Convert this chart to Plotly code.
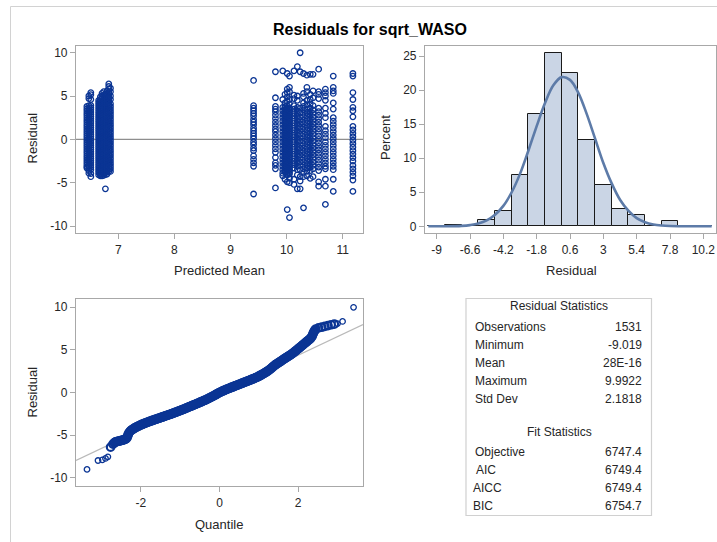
import plotly.graph_objects as go

W, H = 717, 542

# ---------------- Residual by predicted mean (grouped by predicted-mean column) ----------------
pred_mean_cols = [
    6.44, 6.475, 6.51,
    6.65, 6.68, 6.71, 6.74, 6.77, 6.80, 6.83, 6.86,
    9.41, 9.80, 9.93, 9.97, 10.01, 10.05, 10.13, 10.19, 10.24, 10.30,
    10.36, 10.42, 10.47, 10.57, 10.69, 10.83, 11.18,
]
residual_cols = [
    [3.8, 3.52, 3.27, 3.0, 2.76, 2.49, 2.23, 1.98, 1.71, 1.47, 1.2, 0.95, 0.69, 0.43, 0.18, -0.08, -0.33,
     -0.59, -0.84, -1.1, -1.36, -1.61, -1.87, -2.12, -2.38, -2.63, -2.89, -3.14, -3.3],
    [5.0, 4.7, 3.9, 3.64, 3.38, 3.12, 2.87, 2.61, 2.35, 2.1, 1.84, 1.58, 1.33, 1.07, 0.81, 0.56, 0.3, 0.04,
     -0.21, -0.47, -0.73, -0.98, -1.24, -1.5, -1.75, -2.01, -2.27, -2.52, -2.78, -3.04, -3.3, -3.6, -3.9],
    [5.4, 5.15, 4.6, 3.92, 3.66, 3.41, 3.15, 2.9, 2.64, 2.39, 2.13, 1.88, 1.62, 1.37, 1.11, 0.86, 0.6, 0.35,
     0.09, -0.16, -0.42, -0.67, -0.93, -1.18, -1.44, -1.69, -1.95, -2.2, -2.46, -2.71, -2.97, -3.22, -3.5,
     -3.95, -4.3],
    [4.5, 4.24, 3.98, 3.72, 3.46, 3.2, 2.94, 2.68, 2.42, 2.16, 1.9, 1.64, 1.38, 1.12, 0.86, 0.6, 0.34, 0.08,
     -0.18, -0.44, -0.7, -0.96, -1.22, -1.48, -1.74, -2.0, -2.26, -2.52, -2.78, -3.04, -3.3, -3.56, -3.82, -4.1],
    [4.9, 4.62, 4.36, 4.1, 3.84, 3.57, 3.31, 3.05, 2.79, 2.52, 2.26, 2.0, 1.74, 1.47, 1.21, 0.95, 0.69, 0.42,
     0.16, -0.1, -0.36, -0.63, -0.89, -1.15, -1.41, -1.68, -1.94, -2.2, -2.46, -2.73, -2.99, -3.25, -3.51,
     -3.78, -4.04, -4.2],
    [5.3, 5.0, 4.72, 4.45, 4.19, 3.93, 3.66, 3.4, 3.14, 2.87, 2.61, 2.35, 2.08, 1.82, 1.56, 1.29, 1.03, 0.77,
     0.5, 0.24, -0.02, -0.29, -0.55, -0.81, -1.08, -1.34, -1.6, -1.87, -2.13, -2.39, -2.66, -2.92, -3.18,
     -3.45, -3.71, -3.97, -4.2],
    [5.5, 5.1, 4.6, 4.33, 4.07, 3.8, 3.54, 3.27, 3.01, 2.74, 2.48, 2.21, 1.95, 1.68, 1.42, 1.15, 0.89, 0.62,
     0.36, 0.09, -0.17, -0.44, -0.7, -0.97, -1.23, -1.5, -1.76, -2.03, -2.29, -2.56, -2.82, -3.09, -3.35,
     -3.62, -3.88, -4.15],
    [5.2, 4.94, 4.68, 4.41, 4.15, 3.88, 3.62, 3.35, 3.09, 2.82, 2.56, 2.29, 2.03, 1.76, 1.5, 1.23, 0.97, 0.7,
     0.44, 0.17, -0.09, -0.36, -0.62, -0.89, -1.15, -1.42, -1.68, -1.95, -2.21, -2.48, -2.74, -3.01, -3.27,
     -3.54, -3.8, -4.07, -5.7],
    [5.6, 5.3, 5.0, 4.74, 4.47, 4.21, 3.94, 3.68, 3.41, 3.15, 2.88, 2.62, 2.35, 2.09, 1.82, 1.56, 1.29, 1.03,
     0.76, 0.5, 0.23, -0.03, -0.3, -0.56, -0.83, -1.09, -1.36, -1.62, -1.89, -2.15, -2.42, -2.68, -2.95,
     -3.21, -3.48, -3.74, -4.0],
    [6.4, 6.1, 5.8, 5.45, 5.1, 4.8, 4.53, 4.26, 4.0, 3.73, 3.47, 3.2, 2.94, 2.67, 2.41, 2.14, 1.88, 1.61,
     1.35, 1.08, 0.82, 0.55, 0.29, 0.02, -0.24, -0.51, -0.77, -1.04, -1.3, -1.57, -1.83, -2.1, -2.36, -2.63,
     -2.89, -3.16, -3.42, -3.7],
    [5.9, 5.5, 5.0, 4.6, 4.1, 3.8, 3.5, 3.2, 2.9, 2.6, 2.3, 2.0, 1.7, 1.4, 1.1, 0.8, 0.5, 0.2, -0.1, -0.4,
     -0.7, -1.0, -1.3, -1.6, -1.9, -2.2, -2.5, -2.8, -3.1, -3.4, -3.7],
    [6.8, 3.9, 3.6, 3.3, 3.0, 2.7, 2.3, 2.0, 1.7, 1.3, 1.0, 0.7, 0.4, 0.1, -0.3, -0.6, -1.0, -1.3, -1.9,
     -2.3, -2.7, -3.1, -6.3],
    [7.8, 4.8, 3.8, 3.5, 3.2, 2.8, 2.4, 2.0, 1.6, 1.2, 0.9, 0.5, 0.1, -0.3, -0.7, -1.1, -1.5, -2.1, -2.7,
     -3.0, -3.4, -5.6],
    [7.9, 4.6, 3.7, 3.3, 2.9, 2.5, 2.1, 1.7, 1.3, 0.9, 0.5, 0.1, -0.3, -0.7, -1.1, -1.5, -1.9, -2.3, -2.7,
     -3.1, -3.5, -3.9, -4.2],
    [5.2, 4.2, 3.8, 3.6, 3.4, 3.2, 3.0, 2.8, 2.6, 2.4, 2.2, 2.0, 1.8, 1.6, 1.4, 1.2, 1.0, 0.8, 0.6, 0.4,
     0.2, 0.0, -0.2, -0.4, -0.6, -0.8, -1.0, -1.2, -1.4, -1.6, -1.8, -2.0, -2.2, -2.4, -2.6, -2.8, -3.0,
     -3.2, -3.4, -3.6, -3.8, -4.6],
    [7.6, 5.8, 5.4, 4.9, 4.4, 3.9, 3.7, 3.5, 3.3, 3.1, 2.9, 2.7, 2.5, 2.3, 2.1, 1.9, 1.7, 1.5, 1.3, 1.1,
     0.9, 0.7, 0.5, 0.3, 0.1, -0.1, -0.3, -0.5, -0.7, -0.9, -1.1, -1.3, -1.5, -1.7, -1.9, -2.1, -2.3, -2.5,
     -2.7, -2.9, -3.1, -3.3, -3.5, -3.7, -3.9, -4.1, -4.9, -8.1],
    [7.3, 6.0, 5.5, 4.6, 4.1, 3.6, 3.4, 3.2, 3.0, 2.8, 2.6, 2.4, 2.2, 2.0, 1.8, 1.6, 1.4, 1.2, 1.0, 0.8,
     0.6, 0.4, 0.2, 0.0, -0.2, -0.4, -0.6, -0.8, -1.0, -1.2, -1.4, -1.6, -1.8, -2.0, -2.2, -2.4, -2.6, -2.8,
     -3.0, -3.2, -3.4, -3.6, -3.8, -4.0, -4.5, -5.0, -9.02],
    [7.9, 5.1, 4.7, 3.9, 3.5, 3.1, 2.7, 2.3, 1.9, 1.5, 1.1, 0.7, 0.3, -0.1, -0.5, -0.9, -1.3, -1.7, -2.1,
     -2.5, -2.9, -3.3, -4.6, -5.2],
    [8.4, 5.0, 4.5, 3.7, 3.3, 2.9, 2.5, 2.1, 1.7, 1.3, 0.9, 0.5, 0.1, -0.3, -0.7, -1.1, -1.5, -1.9, -2.3,
     -2.7, -3.1, -3.5, -4.1, -5.7],
    [9.99, 7.8, 3.6, 3.1, 2.6, 2.2, 1.8, 1.4, 1.0, 0.6, 0.2, -0.2, -0.6, -1.0, -1.4, -1.8, -2.2, -2.6, -3.0,
     -3.5, -4.3, -4.8, -5.7],
    [7.6, 5.3, 4.9, 4.2, 3.8, 3.4, 3.0, 2.6, 2.2, 1.8, 1.4, 1.0, 0.6, 0.2, -0.2, -0.6, -1.0, -1.4, -1.8,
     -2.2, -2.6, -3.0, -3.4, -3.8, -4.3, -7.9],
    [7.4, 6.0, 5.5, 4.5, 4.0, 3.5, 3.1, 2.7, 2.3, 1.9, 1.5, 1.1, 0.7, 0.3, -0.1, -0.5, -0.9, -1.3, -1.7,
     -2.1, -2.5, -2.9, -3.3, -3.7, -4.2],
    [7.5, 5.2, 4.6, 4.1, 3.6, 3.2, 2.8, 2.4, 2.0, 1.6, 1.2, 0.8, 0.4, 0.0, -0.4, -0.8, -1.2, -1.6, -2.0,
     -2.4, -2.8, -3.2, -3.6, -4.5],
    [7.5, 5.6, 4.8, 3.9, 3.4, 3.0, 2.6, 2.2, 1.8, 1.4, 1.0, 0.6, 0.2, -0.2, -0.6, -1.0, -1.4, -1.8, -2.2,
     -2.6, -3.0, -3.4, -4.3],
    [8.1, 5.5, 5.2, 4.7, 3.6, 3.2, 2.8, 2.4, 2.0, 1.6, 1.2, 0.8, 0.4, 0.0, -0.4, -0.8, -1.2, -1.6, -2.0,
     -2.4, -2.8, -3.2, -3.6, -4.9, -5.4],
    [5.8, 5.4, 5.0, 4.5, 3.6, 3.0, 2.5, 1.5, 1.0, 0.6, 0.2, -0.3, -0.7, -1.1, -1.5, -1.9, -2.3, -2.7, -3.1,
     -3.4, -4.6, -5.4, -7.5],
    [7.3, 6.0, 5.6, 5.3, 4.2, 3.5, 2.5, 2.1, 1.7, 1.3, 0.9, 0.5, 0.1, -0.3, -0.7, -1.1, -1.5, -1.9, -2.3,
     -2.7, -3.1, -3.5, -4.6, -6.0],
    [7.6, 7.3, 5.4, 4.6, 3.7, 3.3, 2.6, 1.5, 1.1, 0.7, 0.3, -0.1, -0.5, -0.9, -1.3, -1.7, -2.1, -2.5, -3.0,
     -3.4, -3.8, -4.2, -4.7, -6.0],
]
resid_ticks = [-10, -5, 0, 5, 10]
resid_tick_text = ["-10", "-5", "0", "5", "10"]
pred_ticks = [7, 8, 9, 10, 11]

# ---------------- Residual distribution (percent per bin) ----------------
bin_centers = [-9.0, -7.8, -6.6, -5.4, -4.2, -3.0, -1.8, -0.6, 0.6, 1.8, 3.0, 4.2, 5.4, 6.6, 7.8, 9.0, 10.2]
bin_percent = [0.0, 0.13, 0.0, 0.9, 2.2, 7.6, 16.5, 25.4, 22.5, 12.6, 6.1, 2.6, 1.6, 0.0, 0.8, 0.0, 0.0]
hist_ticks = [-9, -6.6, -4.2, -1.8, 0.6, 3, 5.4, 7.8, 10.2]
hist_tick_text = ["-9", "-6.6", "-4.2", "-1.8", "0.6", "3", "5.4", "7.8", "10.2"]
pct_ticks = [0, 5, 10, 15, 20, 25]

# normal density overlay (percent scale)
curve_x = [-9.6, -9.0, -8.4, -7.8, -7.2, -6.6, -6.0, -5.4, -4.8, -4.2, -3.6, -3.0, -2.4, -1.8,
           -1.2, -0.6, 0.0, 0.6, 1.2, 1.8, 2.4, 3.0, 3.6, 4.2, 4.8, 5.4, 6.0, 6.6, 7.2, 7.8,
           8.4, 9.0, 9.6, 10.2, 10.8]
curve_pct = [0.0, 0.0, 0.01, 0.03, 0.07, 0.18, 0.4, 0.86, 1.7, 3.0, 5.0, 7.7, 11.1, 14.7,
             18.1, 20.7, 21.9, 21.5, 19.6, 16.5, 12.9, 9.3, 6.3, 3.9, 2.3, 1.2, 0.6, 0.27, 0.12, 0.05,
             0.02, 0.01, 0.0, 0.0, 0.0]

# ---------------- Normal quantile plot ----------------
# isolated points in the two tails
qq_tail_quantile = [-3.37, -3.09, -2.98, -2.90, -2.84, 3.00, 3.13, 3.41]
qq_tail_residual = [-9.02, -7.98, -7.90, -7.74, -7.55, 8.08, 8.34, 9.99]
# the densely packed body of the quantile plot
qq_quantile = [
    -2.77, -2.71, -2.68, -2.66, -2.64, -2.61, -2.585, -2.56, -2.535,
    -2.51, -2.485, -2.46, -2.435, -2.41, -2.39, -2.37, -2.35, -2.33, -2.32,
    -2.300, -2.275, -2.250, -2.225, -2.200, -2.175, -2.150, -2.125, -2.100, -2.075, -2.050, -2.025,
    -2.000, -1.975, -1.950, -1.925, -1.900, -1.875, -1.850, -1.825, -1.800, -1.775, -1.750, -1.725,
    -1.700, -1.675, -1.650, -1.625, -1.600, -1.575, -1.550, -1.525, -1.500, -1.475, -1.450, -1.425,
    -1.400, -1.375, -1.350, -1.325, -1.300, -1.275, -1.250, -1.225, -1.200, -1.175, -1.150, -1.125,
    -1.100, -1.075, -1.050, -1.025, -1.000, -0.975, -0.950, -0.925, -0.900, -0.875, -0.850, -0.825,
    -0.800, -0.775, -0.750, -0.725, -0.700, -0.675, -0.650, -0.625, -0.600, -0.575, -0.550, -0.525,
    -0.500, -0.475, -0.450, -0.425, -0.400, -0.375, -0.350, -0.325, -0.300, -0.275, -0.250, -0.225,
    -0.200, -0.175, -0.150, -0.125, -0.100, -0.075, -0.050, -0.025, 0.000, 0.025, 0.050, 0.075,
    0.100, 0.125, 0.150, 0.175, 0.200, 0.225, 0.250, 0.275, 0.300, 0.325, 0.350, 0.375,
    0.400, 0.425, 0.450, 0.475, 0.500, 0.525, 0.550, 0.575, 0.600, 0.625, 0.650, 0.675,
    0.700, 0.725, 0.750, 0.775, 0.800, 0.825, 0.850, 0.875, 0.900, 0.925, 0.950, 0.975,
    1.000, 1.025, 1.050, 1.075, 1.100, 1.125, 1.150, 1.175, 1.200, 1.225, 1.250, 1.275,
    1.300, 1.325, 1.350, 1.375, 1.400, 1.425, 1.450, 1.475, 1.500, 1.525, 1.550, 1.575,
    1.600, 1.625, 1.650, 1.675, 1.700, 1.725, 1.750, 1.775, 1.800, 1.825, 1.850, 1.875,
    1.900, 1.925, 1.950, 1.975, 2.000, 2.025, 2.050, 2.075, 2.100, 2.125, 2.150, 2.175,
    2.200, 2.225, 2.250, 2.275, 2.300, 2.325, 2.350, 2.365, 2.380, 2.395, 2.410, 2.430, 2.450,
    2.52, 2.60, 2.68, 2.76, 2.84, 2.92,
]
qq_residual = [
    -6.41, -6.06, -5.92, -5.85, -5.80, -5.75, -5.73, -5.70, -5.68,
    -5.65, -5.62, -5.58, -5.55, -5.50, -5.45, -5.40, -5.30, -5.05, -4.90,
    -4.70, -4.56, -4.45, -4.37, -4.30, -4.22, -4.15, -4.08, -4.02, -3.96, -3.90, -3.85,
    -3.80, -3.75, -3.70, -3.65, -3.61, -3.56, -3.52, -3.47, -3.43, -3.39, -3.35, -3.31,
    -3.27, -3.23, -3.19, -3.15, -3.11, -3.07, -3.03, -2.99, -2.95, -2.91, -2.87, -2.83,
    -2.79, -2.75, -2.71, -2.67, -2.63, -2.59, -2.55, -2.51, -2.47, -2.42, -2.38, -2.34,
    -2.30, -2.25, -2.21, -2.16, -2.12, -2.07, -2.03, -1.98, -1.94, -1.89, -1.84, -1.79,
    -1.74, -1.69, -1.64, -1.60, -1.55, -1.50, -1.45, -1.41, -1.36, -1.31, -1.26, -1.21,
    -1.16, -1.11, -1.06, -1.01, -0.96, -0.91, -0.86, -0.81, -0.75, -0.69, -0.63, -0.57,
    -0.51, -0.45, -0.39, -0.33, -0.26, -0.20, -0.13, -0.07, 0.00, 0.06, 0.11, 0.16,
    0.21, 0.26, 0.31, 0.36, 0.40, 0.45, 0.50, 0.55, 0.59, 0.64, 0.68, 0.73,
    0.77, 0.82, 0.86, 0.91, 0.95, 1.00, 1.04, 1.09, 1.13, 1.18, 1.22, 1.27,
    1.31, 1.36, 1.40, 1.45, 1.50, 1.55, 1.59, 1.64, 1.69, 1.74, 1.79, 1.85,
    1.91, 1.97, 2.03, 2.10, 2.16, 2.23, 2.30, 2.37, 2.44, 2.52, 2.60, 2.69,
    2.78, 2.88, 2.98, 3.08, 3.18, 3.26, 3.34, 3.42, 3.49, 3.57, 3.64, 3.72,
    3.80, 3.88, 3.95, 4.03, 4.10, 4.18, 4.25, 4.33, 4.40, 4.48, 4.56, 4.65,
    4.74, 4.84, 4.93, 5.03, 5.12, 5.22, 5.31, 5.41, 5.50, 5.60, 5.70, 5.80,
    5.90, 5.99, 6.08, 6.18, 6.28, 6.40, 6.55, 6.72, 6.90, 7.05, 7.20, 7.33, 7.45,
    7.58, 7.66, 7.75, 7.85, 7.95, 8.02,
]
quantile_ticks = [-2, 0, 2]
quantile_tick_text = ["-2", "0", "2"]

# ---------------- Summary tables ----------------
resid_stat_names = ["Observations", "Minimum", "Mean", "Maximum", "Std Dev"]
resid_stat_values = ["1531", "-9.019", "28E-16", "9.9922", "2.1818"]
fit_stat_names = ["Objective", "AIC", "AICC", "BIC"]
fit_stat_values = ["6747.4", "6749.4", "6749.4", "6754.7"]
resid_mean = 0.0
resid_std = 2.1818

# ---------------------------------------------------------------------------
MARKER_BLUE = "#0b3594"
FRAME = "#a8a8a8"
FONT = "Liberation Sans, Arial, sans-serif"


def px_x(p):
    return p / W


def px_y(p):
    return 1 - p / H


scatter_x, scatter_y = [], []
for xv, ys in zip(pred_mean_cols, residual_cols):
    scatter_x.extend([xv] * len(ys))
    scatter_y.extend(ys)

fig = go.Figure()

ring = dict(symbol="circle-open", size=5.5, color=MARKER_BLUE, line=dict(width=1.3, color=MARKER_BLUE))
ring_dense = dict(symbol="circle-open", size=7.5, color=MARKER_BLUE, line=dict(width=2.2, color=MARKER_BLUE))

fig.add_trace(go.Scatter(x=scatter_x, y=scatter_y, mode="markers", marker=ring,
                         xaxis="x", yaxis="y", showlegend=False, hoverinfo="x+y"))

fig.add_trace(go.Bar(x=bin_centers, y=bin_percent, width=1.2, xaxis="x2", yaxis="y2",
                     marker=dict(color="#cad5e5", line=dict(color="#1a1a1a", width=1)),
                     showlegend=False))
fig.add_trace(go.Scatter(x=curve_x, y=curve_pct, mode="lines", xaxis="x2", yaxis="y2",
                         line=dict(color="#5d7ba8", width=2.6, shape="spline"), showlegend=False))

# reference line for the normal quantile plot: mean + sd * quantile
qq_range = [-3.65, 3.65]
fig.add_trace(go.Scatter(x=qq_range, y=[resid_mean + resid_std * q for q in qq_range], mode="lines",
                         xaxis="x3", yaxis="y3", line=dict(color="#b9b9b9", width=1.2),
                         showlegend=False, hoverinfo="skip"))
fig.add_trace(go.Scatter(x=qq_quantile, y=qq_residual, mode="markers", marker=ring_dense,
                         xaxis="x3", yaxis="y3", showlegend=False))
fig.add_trace(go.Scatter(x=qq_tail_quantile, y=qq_tail_residual, mode="markers", marker=ring,
                         xaxis="x3", yaxis="y3", showlegend=False))

axis_common = dict(showline=True, mirror=True, linecolor=FRAME, linewidth=1.2,
                   ticks="outside", ticklen=5, tickcolor=FRAME, showgrid=False, zeroline=False,
                   tickfont=dict(family=FONT, size=12, color="#262626"), fixedrange=True)

left_dom = [px_x(76), px_x(363)]
top_dom = [px_y(233), px_y(46)]
bot_dom = [px_y(486), px_y(299)]

fig.update_layout(
    width=W, height=H,
    margin=dict(l=0, r=0, t=0, b=0),
    paper_bgcolor="white", plot_bgcolor="white",
    bargap=0,
    xaxis=dict(domain=left_dom, range=[6.246, 11.36], tickvals=pred_ticks, anchor="y", **axis_common),
    yaxis=dict(domain=top_dom, range=[-10.8, 10.77], tickvals=resid_ticks, ticktext=resid_tick_text,
               anchor="x", **axis_common),
    xaxis2=dict(domain=[px_x(425), px_x(716)], range=[-9.84, 11.11], tickvals=hist_ticks,
                ticktext=hist_tick_text, anchor="y2", **axis_common),
    yaxis2=dict(domain=top_dom, range=[-0.98, 26.47], tickvals=pct_ticks, anchor="x2", **axis_common),
    xaxis3=dict(domain=left_dom, range=qq_range, tickvals=quantile_ticks, ticktext=quantile_tick_text,
                anchor="y3", **axis_common),
    yaxis3=dict(domain=bot_dom, range=[-10.97, 10.97], tickvals=resid_ticks, ticktext=resid_tick_text,
                anchor="x3", **axis_common),
)

shapes = [
    # outer frame of the panel
    dict(type="rect", xref="paper", yref="paper", x0=px_x(10.5), x1=1.02, y0=-0.02, y1=px_y(6.5),
         line=dict(color="#d2d2d2", width=1), layer="below"),
    # zero reference in residual-by-predicted plot
    dict(type="line", xref="x domain", yref="y", x0=0, x1=1, y0=0, y1=0,
         line=dict(color="#8e8e8e", width=1.2), layer="below"),
    # statistics box
    dict(type="rect", xref="paper", yref="paper", x0=px_x(466), x1=px_x(651.5), y0=px_y(515.5), y1=px_y(298.5),
         line=dict(color="#d0d0d0", width=1.2)),
]

annotations = []


def text(x, y, s, size=13, anchor="center", bold=False, angle=0, color="#262626"):
    annotations.append(dict(
        x=px_x(x), y=px_y(y), xref="paper", yref="paper", text=f"<b>{s}</b>" if bold else s,
        showarrow=False, xanchor=anchor, yanchor="middle", textangle=angle,
        font=dict(family=FONT, size=size, color=color)))


text(370, 29, "Residuals for sqrt_WASO", size=16, bold=True, color="#000000")
text(219.5, 270.5, "Predicted Mean")
text(31.5, 138, "Residual", angle=-90)
text(571, 270, "Residual")
text(385, 138, "Percent", angle=-90)
text(219, 524, "Quantile")
text(31.5, 392, "Residual", angle=-90)

# statistics table
text(559, 306, "Residual Statistics", size=12)
row_y = [326.5, 344.7, 362.7, 380.7, 398.5]
for name, val, yy in zip(resid_stat_names, resid_stat_values, row_y):
    text(472.5, yy, name, size=12, anchor="left")
    text(644, yy, val, size=12, anchor="right")
text(559, 432, "Fit Statistics", size=12)
fit_y = [451.7, 470, 488.3, 505.7]
fit_x = [472.5, 474, 470.5, 470.5]
for name, val, yy, xx in zip(fit_stat_names, fit_stat_values, fit_y, fit_x):
    text(xx, yy, name, size=12, anchor="left")
    text(644, yy, val, size=12, anchor="right")

fig.update_layout(shapes=shapes, annotations=annotations)

fig.write_html("out.html", config={"displayModeBar": False})
